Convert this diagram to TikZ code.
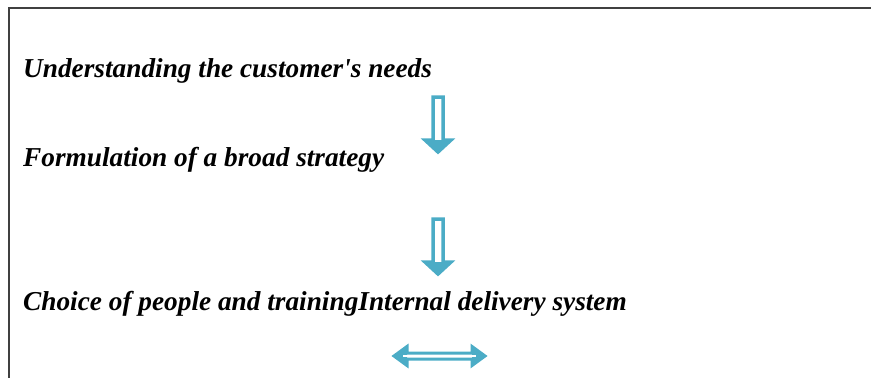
\documentclass[tikz,border=0pt]{standalone}
\usepackage{fontspec}
\setmainfont{Liberation Serif}
\usetikzlibrary{calc}
\definecolor{arrowblue}{HTML}{4BACC6}
\tikzset{
  stagetext/.style={anchor=base west,inner sep=0pt,font=\fontsize{27.3}{32}\selectfont\bfseries\itshape},
  blockarrow/.style={draw=arrowblue,fill=white,line width=3.5pt,line join=miter}
}
\begin{document}
\begin{tikzpicture}[x=1pt,y=-1pt]
        \useasboundingbox (0,0) rectangle (871,378);
        \coordinate (TL) at (9,8);
        \draw[line width=1.5pt,black!75] (871,8) -- (TL) -- (9,378);
        \node[stagetext] (needs) at (23,77) {Understanding the customer\textquotesingle s needs};
        \node[stagetext] (strategy) at (23,166) {Formulation of a broad strategy};
        \node[stagetext] (delivery) at (23,310) {Choice of people and trainingInternal delivery system};
        % down arrows
        \def\sw{5};
        \def\hw{13};
        \def\hl{12};
        \coordinate (A1) at (438,97);
        \coordinate (A2) at (438,219);
        \foreach \a in {A1,A2}{
          \draw[blockarrow] (\a)++(-\sw,0) -- ++(0,43) -- ++(\sw-\hw,0) -- ++(\hw,\hl)
            -- ++(\hw,-\hl) -- ++(\sw-\hw,0) -- ++(0,-43) -- cycle;
          \fill[arrowblue] (\a)++(-\hw,43) -- ++(\hw,\hl) -- ++(\hw,-\hl) -- cycle;
        }
        % two-way arrow
        \coordinate (L) at (394,356);
        \draw[blockarrow,line width=3pt] (L) -- ++(13,-9.5) -- ++(0,6.5) -- ++(65,0) -- ++(0,-6.5)
            -- ++(13,9.5) -- ++(-13,9.5) -- ++(0,-6.5) -- ++(-65,0) -- ++(0,6.5) -- cycle;
        \fill[arrowblue] (L) -- ++(13,-9.5) -- ++(0,19) -- cycle;
        \fill[arrowblue] (L)++(91,0) -- ++(-13,-9.5) -- ++(0,19) -- cycle;
        \draw[white,line width=1.2pt] (L)++(9,0) -- ++(73,0);
\end{tikzpicture}
\end{document}
